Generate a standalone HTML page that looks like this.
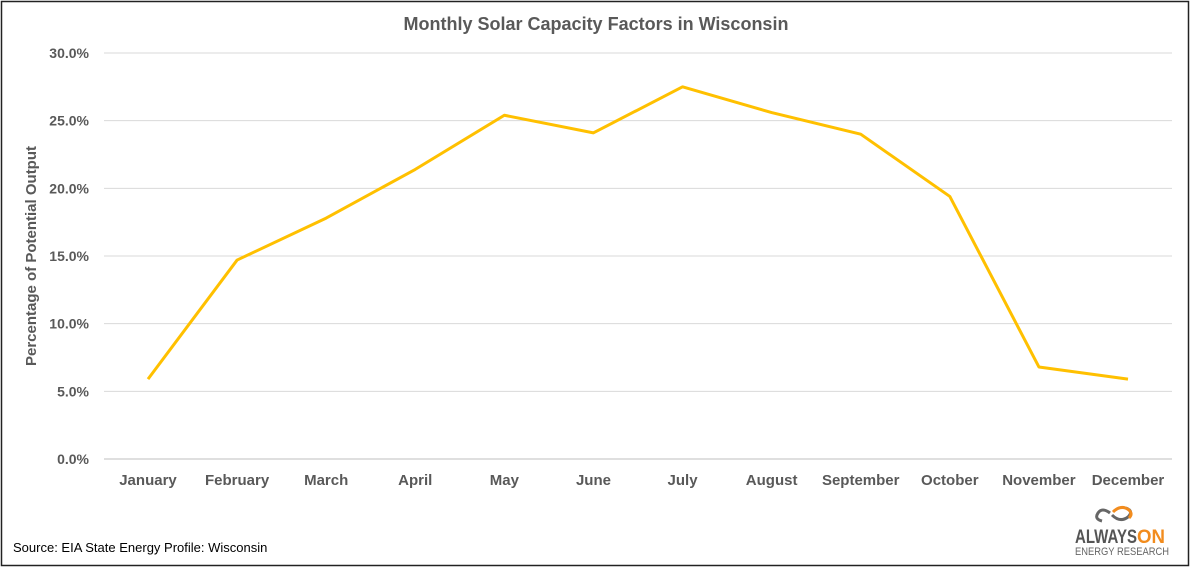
<!DOCTYPE html>
<html><head><meta charset="utf-8"><style>
body{margin:0;background:#fff;font-family:"Liberation Sans",sans-serif;}
svg{display:block}
</style></head><body>
<svg width="1192" height="569">
<rect x="1.5" y="1.5" width="1187" height="564" fill="#fff" stroke="#222" stroke-width="1.5"/>
<text x="596" y="30" text-anchor="middle" font-size="18" font-weight="bold" fill="#595959">Monthly Solar Capacity Factors in Wisconsin</text>
<text transform="translate(36,256) rotate(-90)" text-anchor="middle" font-size="15" font-weight="bold" fill="#595959">Percentage of Potential Output</text>
<g id="grid"></g><g id="yt"></g><g id="xt"></g><g id="ln"></g>
<text x="13" y="552" font-size="13" fill="#000">Source: EIA State Energy Profile: Wisconsin</text>
<g>
<path d="M1110 513 q-8 -6 -12 0 q-4 6 4 8 M1112 515 q8 8 16 2 q6 -6 -2 -9" fill="none" stroke="#666" stroke-width="3"/>
<path d="M1113 512 q8 -8 16 -2 q4 4 0 8" fill="none" stroke="#f28c1e" stroke-width="3"/>
<text x="1075" y="543" font-size="19" font-weight="bold" fill="#555" textLength="62" lengthAdjust="spacingAndGlyphs">ALWAYS</text>
<text x="1137" y="543" font-size="19" font-weight="bold" fill="#f28c1e" textLength="28" lengthAdjust="spacingAndGlyphs">ON</text>
<text x="1075" y="555" font-size="11" fill="#666" textLength="94" lengthAdjust="spacingAndGlyphs">ENERGY RESEARCH</text>
</g>
</svg>
<script>
const months=["January","February","March","April","May","June","July","August","September","October","November","December"];
const values=[5.9,14.7,17.8,21.4,25.4,24.1,27.5,25.6,24.0,19.4,6.8,5.9];
const yTicks=[0,5,10,15,20,25,30];
const NS="http://www.w3.org/2000/svg";
const y=v=>459-v*(406/30);
const x=i=>148+i*(980/11);
function mk(t,a,p){const e=document.createElementNS(NS,t);for(const k in a)e.setAttribute(k,a[k]);p.appendChild(e);return e;}
const grid=document.getElementById('grid'),yt=document.getElementById('yt'),xt=document.getElementById('xt'),ln=document.getElementById('ln');
yTicks.forEach(v=>{
 const l=mk('line',{x1:104,x2:1172,y1:y(v),y2:y(v),stroke:v===0?'#bfbfbf':'#d9d9d9','stroke-width':1},grid);
 
 
 const t=mk('text',{x:89,y:y(v)+5,'text-anchor':'end','font-size':14,'font-weight':'bold',fill:'#595959'},yt);
 t.textContent=v.toFixed(1)+'%';
 
 
});
months.forEach((m,i)=>{
 const t=mk('text',{x:x(i),y:485,'text-anchor':'middle','font-size':15,'font-weight':'bold',fill:'#595959'},xt);
 t.textContent=m;
 
 
});
const p=mk('polyline',{points:values.map((v,i)=>x(i)+','+y(v)).join(' '),fill:'none',stroke:'#ffc000','stroke-width':3,'stroke-linejoin':'round'},ln);


</script>
</body></html>
